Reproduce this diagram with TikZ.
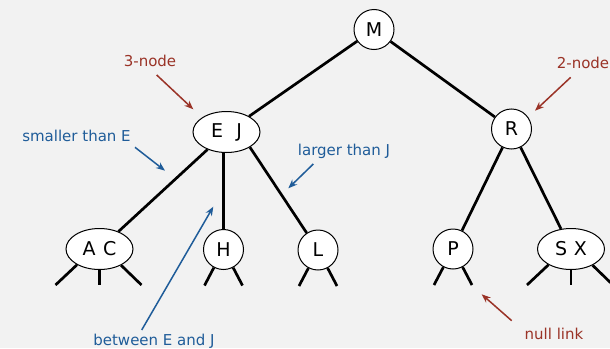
\documentclass[tikz,border=0pt]{standalone}
\usepackage{fontspec}
\setmainfont{DejaVu Sans}
\usetikzlibrary{shapes.geometric,arrows.meta,calc}
\definecolor{bg}{HTML}{F2F2F2}
\definecolor{annred}{HTML}{9A3327}
\definecolor{annblue}{HTML}{1F5C99}
\begin{document}
\begin{tikzpicture}[x=1pt,y=-1pt,
  keyfont/.style={font=\fontsize{19}{21}\selectfont},
  twonode/.style={circle,draw,fill=white,line width=1pt,minimum size=40pt,inner sep=0pt,keyfont},
  threenode/.style={ellipse,draw,fill=white,line width=1pt,minimum width=67pt,minimum height=41pt,inner sep=0pt,keyfont},
  link/.style={line width=2.7pt},
  lbl/.style={font=\fontsize{15}{17}\selectfont,inner sep=0pt,anchor=base},
  redlbl/.style={lbl,text=annred},
  bluelbl/.style={lbl,text=annblue},
  redarrow/.style={draw=annred,line width=1.5pt,-{Stealth[length=9pt,width=7pt]}},
  bluearrow/.style={draw=annblue,line width=1.5pt,-{Stealth[length=9pt,width=7pt]}}
]
\fill[bg] (0,0) rectangle (610,348);
\useasboundingbox (0,0) rectangle (610,348);

% nodes
\node[twonode] (M) at (374,29.5) {M};
\node[threenode] (EJ) at (226.5,132) {E\hspace{0.7em}J};
\node[twonode] (R) at (511.5,129) {R};
\node[threenode] (AC) at (99.5,249) {A\hspace{0.4em}C};
\node[twonode] (H) at (223.5,249.5) {H};
\node[twonode] (L) at (318,250) {L};
\node[twonode] (P) at (453,249) {P};
\node[threenode] (SX) at (571,249) {S\hspace{0.35em}X};

% tree links
\draw[link] (M) -- (EJ);
\draw[link] (M) -- (R);
\draw[link] (EJ) -- (AC);
\draw[link] (EJ.south -| H.north) -- (H);
\draw[link] (EJ.-33) -- (L);
\draw[link] (R) -- (P);
\draw[link] (R) -- (SX);

% null links
\foreach \n in {H,L,P}{
  \coordinate (\n-nl) at ($(\n)+(-19,36)$);
  \coordinate (\n-nr) at ($(\n)+(19,36)$);
  \draw[link] (\n.-118) -- (\n-nl);
  \draw[link] (\n.-62) -- (\n-nr);
}
\foreach \n in {AC,SX}{
  \coordinate (\n-nl) at ($(\n)+(-44,36)$);
  \coordinate (\n-nm) at ($(\n)+(0,36)$);
  \coordinate (\n-nr) at ($(\n)+(42,36)$);
  \draw[link] (\n.-145) -- (\n-nl);
  \draw[link] (\n.south) -- (\n-nm);
  \draw[link] (\n.-37) -- (\n-nr);
}

% annotations
\node[redlbl] (l3) at (150,66) {3-node};
\coordinate (a3s) at (156.7,75);
\coordinate (a3e) at (193.3,109.3);
\draw[redarrow] (a3s) -- (a3e);

\node[redlbl] (l2) at (583,68) {2-node};
\coordinate (a2s) at (570.7,77.3);
\coordinate (a2e) at (535,110.7);
\draw[redarrow] (a2s) -- (a2e);

\node[bluelbl] (lsm) at (76.5,141) {smaller than E};
\coordinate (asms) at (135,147.3);
\coordinate (asme) at (165,170.7);
\draw[bluearrow] (asms) -- (asme);

\node[bluelbl] (llg) at (344,155.5) {larger than J};
\coordinate (algs) at (313.3,164);
\coordinate (alge) at (288.3,188.3);
\draw[bluearrow] (algs) -- (alge);

\node[bluelbl] (lbt) at (154,345.5) {between E and J};
\coordinate (abts) at (141.7,330);
\coordinate (abte) at (213.3,206.7);
\draw[bluearrow] (abts) -- (abte);

\node[redlbl] (lnl) at (554,339) {null link};
\coordinate (anls) at (511.7,320.7);
\coordinate (anle) at (481.7,294.3);
\draw[redarrow] (anls) -- (anle);
\end{tikzpicture}
\end{document}
